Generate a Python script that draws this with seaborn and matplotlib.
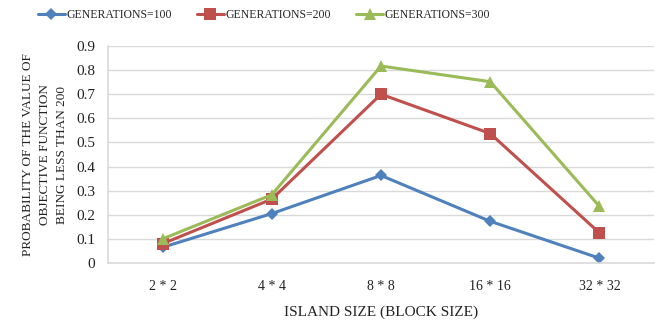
import matplotlib
matplotlib.use("Agg")
import matplotlib.pyplot as plt
import seaborn as sns
import pandas as pd

categories = ["2*2", "4*4", "8*8", "16*16", "32*32"]
gen100 = [0.065, 0.205, 0.363, 0.173, 0.02]
gen200 = [0.08, 0.265, 0.70, 0.537, 0.125]
gen300 = [0.10, 0.283, 0.817, 0.752, 0.235]
series_names = ["GENERATIONS=100", "GENERATIONS=200", "GENERATIONS=300"]
y_ticks = [0, 0.1, 0.2, 0.3, 0.4, 0.5, 0.6, 0.7, 0.8, 0.9]

rows = []
for name, vals in zip(series_names, [gen100, gen200, gen300]):
    for i, (c, v) in enumerate(zip(categories, vals)):
        rows.append({"idx": i, "size": c, "value": v, "series": name})
df = pd.DataFrame(rows)

sns.set_theme(style="white")
plt.rcParams["font.family"] = ["Liberation Serif", "DejaVu Serif"]

palette = {series_names[0]: "#4F81BD", series_names[1]: "#C0504D", series_names[2]: "#9BBB59"}
markers = {series_names[0]: "D", series_names[1]: "s", series_names[2]: "^"}
sizes = {series_names[0]: 6.5, series_names[1]: 8, series_names[2]: 8.5}

fig = plt.figure(figsize=(6.62, 3.25), dpi=100)
ax = fig.add_axes([108 / 662, 1 - 263 / 325, (654 - 108) / 662, (263 - 46) / 325])

for name in series_names:
    sub = df[df["series"] == name]
    sns.lineplot(data=sub, x="idx", y="value", ax=ax, color=palette[name],
                 marker=markers[name], markersize=sizes[name], linewidth=2.2,
                 markeredgewidth=0, label=name, legend=False)

ax.set_xlim(-0.5, len(categories) - 0.5)
ax.set_ylim(0, 0.9)
ax.set_yticks(y_ticks)
ax.set_yticklabels([f"{t:g}" for t in y_ticks], fontsize=11)
ax.set_xticks(range(len(categories)))
ax.set_xticklabels([c.replace("*", " * ") for c in categories], fontsize=10)
ax.grid(axis="y", color="#D9D9D9", linewidth=1)
ax.set_axisbelow(True)
for s in ["top", "right"]:
    ax.spines[s].set_visible(False)
for s in ["left", "bottom"]:
    ax.spines[s].set_color("#D9D9D9")
    ax.spines[s].set_linewidth(1.2)
ax.tick_params(axis="y", length=5, color="#D9D9D9", pad=4, labelcolor="#222222")
ax.tick_params(axis="x", length=0, pad=12, labelcolor="#222222")

ax.set_xlabel("ISLAND SIZE (BLOCK SIZE)", fontsize=11, color="#222222", labelpad=9)
ax.set_ylabel("PROBABILITY OF THE VALUE OF\nOBJECTIVE FUNCTION\nBEING LESS THAN 200",
              fontsize=9.5, color="#222222", labelpad=6, linespacing=1.55)

handles, labels = ax.get_legend_handles_labels()
fig.legend(handles, labels, loc="center", bbox_to_anchor=(264 / 662, 1 - 15 / 325),
           ncol=3, frameon=False, fontsize=8.5, handlelength=2.3, columnspacing=2.1,
           handletextpad=0.15)

fig.savefig("out.png", dpi=100)
